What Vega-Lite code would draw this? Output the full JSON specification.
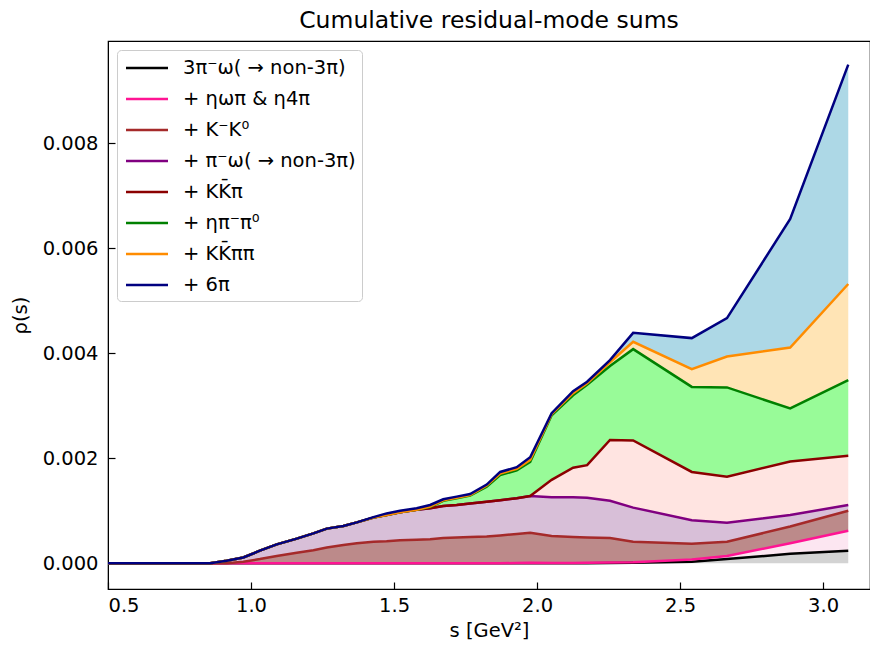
{
  "$schema": "https://vega.github.io/schema/vega-lite/v6.json",
  "autosize": "none",
  "padding": {"left": 108, "top": 41, "right": 0, "bottom": 56},
  "width": 762,
  "height": 548,
  "background": "white",
  "title": {"text": "Cumulative residual-mode sums", "font": "DejaVu Sans", "fontSize": 23.5, "fontWeight": "normal", "color": "black", "offset": 9, "anchor": "middle"},
  "config": {
    "view": {"stroke": "black", "strokeWidth": 1.2},
    "axis": {"labelFont": "DejaVu Sans", "labelFontSize": 19.5, "labelColor": "black", "titleFont": "DejaVu Sans", "titleFontSize": 19.5, "titleFontWeight": "normal", "titleColor": "black", "tickColor": "black", "domainColor": "black", "grid": false, "tickSize": -7, "tickWidth": 1.2}
  },
  "data": {"values": [
    {"s": 0.5, "c1": 0, "c2": 0, "c3": 0, "c4": 0, "c5": 0, "c6": 0, "c7": 0, "c8": 0},
    {"s": 0.857, "c1": 0, "c2": 0, "c3": 0, "c4": 0, "c5": 0, "c6": 0, "c7": 0, "c8": 0},
    {"s": 0.915, "c1": 0, "c2": 0, "c3": 0, "c4": 0.00005, "c5": 0.00005, "c6": 0.00005, "c7": 0.00005, "c8": 0.00005},
    {"s": 0.973, "c1": 0, "c2": 0, "c3": 0.00003, "c4": 0.00011, "c5": 0.00011, "c6": 0.00011, "c7": 0.00011, "c8": 0.00011},
    {"s": 1.031, "c1": 0, "c2": 0, "c3": 0.00008, "c4": 0.00024, "c5": 0.00024, "c6": 0.00024, "c7": 0.00024, "c8": 0.00024},
    {"s": 1.09, "c1": 0, "c2": 0, "c3": 0.00014, "c4": 0.00036, "c5": 0.00036, "c6": 0.00036, "c7": 0.00036, "c8": 0.00036},
    {"s": 1.16, "c1": 0, "c2": 0, "c3": 0.0002, "c4": 0.00047, "c5": 0.00047, "c6": 0.00047, "c7": 0.00047, "c8": 0.00047},
    {"s": 1.218, "c1": 0, "c2": 0, "c3": 0.00025, "c4": 0.00057, "c5": 0.00057, "c6": 0.00057, "c7": 0.00057, "c8": 0.00057},
    {"s": 1.265, "c1": 0, "c2": 0, "c3": 0.0003, "c4": 0.00066, "c5": 0.00066, "c6": 0.00066, "c7": 0.00066, "c8": 0.00066},
    {"s": 1.323, "c1": 0, "c2": 0, "c3": 0.00035, "c4": 0.00071, "c5": 0.00071, "c6": 0.00071, "c7": 0.00071, "c8": 0.00071},
    {"s": 1.37, "c1": 0, "c2": 0, "c3": 0.00038, "c4": 0.00078, "c5": 0.00078, "c6": 0.00078, "c7": 0.00078, "c8": 0.00078},
    {"s": 1.428, "c1": 0, "c2": 0, "c3": 0.00041, "c4": 0.00087, "c5": 0.00087, "c6": 0.00087, "c7": 0.00087, "c8": 0.00088},
    {"s": 1.474, "c1": 0, "c2": 0, "c3": 0.00042, "c4": 0.00092, "c5": 0.00092, "c6": 0.00092, "c7": 0.00092, "c8": 0.00095},
    {"s": 1.521, "c1": 0, "c2": 0, "c3": 0.00044, "c4": 0.00097, "c5": 0.00097, "c6": 0.00097, "c7": 0.00097, "c8": 0.001},
    {"s": 1.579, "c1": 0, "c2": 0, "c3": 0.00045, "c4": 0.00102, "c5": 0.00102, "c6": 0.00102, "c7": 0.00102, "c8": 0.00105},
    {"s": 1.626, "c1": 0, "c2": 0, "c3": 0.00046, "c4": 0.00105, "c5": 0.00105, "c6": 0.00107, "c7": 0.00108, "c8": 0.00111},
    {"s": 1.672, "c1": 0, "c2": 0, "c3": 0.00048, "c4": 0.00109, "c5": 0.00109, "c6": 0.00119, "c7": 0.0012, "c8": 0.00122},
    {"s": 1.719, "c1": 0, "c2": 0, "c3": 0.00049, "c4": 0.00111, "c5": 0.00111, "c6": 0.00124, "c7": 0.00125, "c8": 0.00127},
    {"s": 1.766, "c1": 0, "c2": 0, "c3": 0.0005, "c4": 0.00114, "c5": 0.00114, "c6": 0.00129, "c7": 0.0013, "c8": 0.00132},
    {"s": 1.824, "c1": 0, "c2": 0, "c3": 0.00051, "c4": 0.00117, "c5": 0.00117, "c6": 0.00146, "c7": 0.00148, "c8": 0.0015},
    {"s": 1.871, "c1": 0, "c2": 0, "c3": 0.00053, "c4": 0.0012, "c5": 0.0012, "c6": 0.00168, "c7": 0.00171, "c8": 0.00174},
    {"s": 1.929, "c1": 0, "c2": 0.000005, "c3": 0.00056, "c4": 0.00124, "c5": 0.00124, "c6": 0.00177, "c7": 0.0018, "c8": 0.00183},
    {"s": 1.976, "c1": 0, "c2": 0.00001, "c3": 0.00058, "c4": 0.00128, "c5": 0.00128, "c6": 0.00193, "c7": 0.00197, "c8": 0.00202},
    {"s": 2.051, "c1": 0, "c2": 0.000005, "c3": 0.00052, "c4": 0.00126, "c5": 0.00159, "c6": 0.00282, "c7": 0.00284, "c8": 0.00286},
    {"s": 2.126, "c1": 0, "c2": 0.000005, "c3": 0.0005, "c4": 0.00126, "c5": 0.00182, "c6": 0.0032, "c7": 0.00324, "c8": 0.00328},
    {"s": 2.175, "c1": 0, "c2": 0.00001, "c3": 0.00049, "c4": 0.00125, "c5": 0.00187, "c6": 0.0034, "c7": 0.00343, "c8": 0.00346},
    {"s": 2.255, "c1": 0.000005, "c2": 0.000015, "c3": 0.00048, "c4": 0.00119, "c5": 0.00235, "c6": 0.00376, "c7": 0.00383, "c8": 0.00387},
    {"s": 2.336, "c1": 0.00001, "c2": 0.00002, "c3": 0.00041, "c4": 0.00106, "c5": 0.00234, "c6": 0.00408, "c7": 0.00422, "c8": 0.00439},
    {"s": 2.541, "c1": 0.00003, "c2": 0.00007, "c3": 0.00037, "c4": 0.00082, "c5": 0.00174, "c6": 0.00336, "c7": 0.0037, "c8": 0.00429},
    {"s": 2.664, "c1": 0.00008, "c2": 0.00014, "c3": 0.00041, "c4": 0.00077, "c5": 0.00165, "c6": 0.00335, "c7": 0.00394, "c8": 0.00467},
    {"s": 2.885, "c1": 0.00018, "c2": 0.00038, "c3": 0.0007, "c4": 0.00092, "c5": 0.00194, "c6": 0.00295, "c7": 0.00411, "c8": 0.00656},
    {"s": 3.088, "c1": 0.00024, "c2": 0.00062, "c3": 0.001, "c4": 0.00111, "c5": 0.00205, "c6": 0.00349, "c7": 0.00532, "c8": 0.0095}
  ]},
  "encoding": {
    "x": {"field": "s", "type": "quantitative", "scale": {"domain": [0.5, 3.164], "nice": false, "zero": false},
      "axis": {"values": [0.5, 1.0, 1.5, 2.0, 2.5, 3.0], "format": ".1f", "title": "s [GeV²]", "labelPadding": 14, "titlePadding": 7}}
  },
  "layer": [
    {"mark": {"type": "area", "color": "#d3d3d3"}, "encoding": {"y": {"field": "c1", "type": "quantitative", "scale": {"domain": [-0.00049, 0.00995], "nice": false, "zero": false}, "axis": {"values": [0, 0.002, 0.004, 0.006, 0.008], "format": ".3f", "title": "ρ(s)", "labelPadding": 17, "titlePadding": 12}}}},
    {"mark": {"type": "area", "color": "#fce6f1"}, "encoding": {"y": {"field": "c2", "type": "quantitative"}, "y2": {"field": "c1"}}},
    {"mark": {"type": "area", "color": "#bc8a8a"}, "encoding": {"y": {"field": "c3", "type": "quantitative"}, "y2": {"field": "c2"}}},
    {"mark": {"type": "area", "color": "#d8bfd8"}, "encoding": {"y": {"field": "c4", "type": "quantitative"}, "y2": {"field": "c3"}}},
    {"mark": {"type": "area", "color": "#ffe4e1"}, "encoding": {"y": {"field": "c5", "type": "quantitative"}, "y2": {"field": "c4"}}},
    {"mark": {"type": "area", "color": "#98fb98"}, "encoding": {"y": {"field": "c6", "type": "quantitative"}, "y2": {"field": "c5"}}},
    {"mark": {"type": "area", "color": "#ffe4b5"}, "encoding": {"y": {"field": "c7", "type": "quantitative"}, "y2": {"field": "c6"}}},
    {"mark": {"type": "area", "color": "#add8e6"}, "encoding": {"y": {"field": "c8", "type": "quantitative"}, "y2": {"field": "c7"}}},
    {
      "transform": [{"fold": ["c1", "c2", "c3", "c4", "c5", "c6", "c7", "c8"], "as": ["mode", "v"]}],
      "mark": {"type": "line", "strokeWidth": 2.5},
      "encoding": {
        "y": {"field": "v", "type": "quantitative"},
        "color": {"field": "mode", "type": "nominal",
          "scale": {"domain": ["c1", "c2", "c3", "c4", "c5", "c6", "c7", "c8"], "range": ["#000000", "#ff1493", "#a52a2a", "#800080", "#8b0000", "#008000", "#ff8c00", "#000080"]},
          "legend": {"title": null, "orient": "none", "legendX": 9, "legendY": 9, "fillColor": "white", "strokeColor": "#cccccc", "cornerRadius": 4, "padding": 6,
            "symbolType": "M-2,0H2", "symbolSize": 441, "symbolStrokeWidth": 2.5, "symbolOffset": 12, "labelOffset": 24, "rowPadding": 9,
            "labelFont": "DejaVu Sans", "labelFontSize": 19.5, "labelColor": "black", "labelLimit": 400,
            "labelExpr": "{'c1':'3π⁻ω( → non-3π)','c2':'+ ηωπ & η4π','c3':'+ K⁻K⁰','c4':'+ π⁻ω( → non-3π)','c5':'+ KK̄π','c6':'+ ηπ⁻π⁰','c7':'+ KK̄ππ','c8':'+ 6π'}[datum.label]"}
        },
        "order": {"field": "s", "type": "quantitative"}
      }
    }
  ]
}
